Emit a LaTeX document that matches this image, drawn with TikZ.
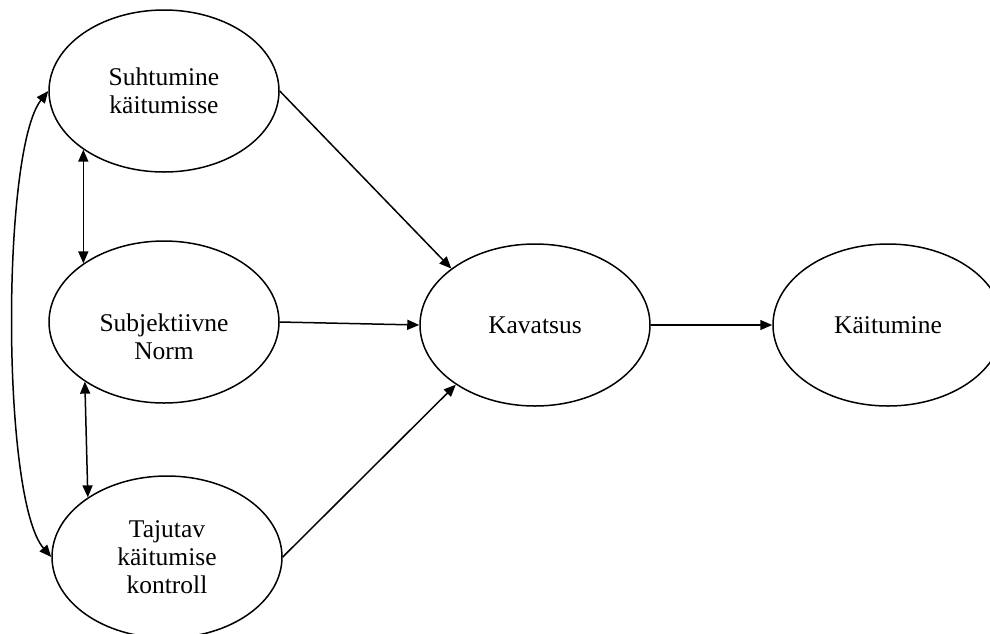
\documentclass[tikz,border=0pt]{standalone}
\usepackage{fontspec}
\setmainfont{Liberation Serif}
\usetikzlibrary{shapes.geometric,arrows.meta}
\begin{document}
\begin{tikzpicture}[x=1pt,y=-1pt,
  txt/.style={align=center, inner sep=0pt, font=\fontsize{25.5}{28}\selectfont},
  oval/.style={txt, draw, ellipse, line width=1.5pt, minimum width=230pt, minimum height=162pt},
  tip/.tip={Triangle[length=12pt,width=10pt]},
  conn/.style={line width=1.5pt, -tip},
  both/.style={line width=1.5pt, tip-tip}]
\useasboundingbox (0,0) rectangle (990,633);
\clip (0,0) rectangle (990,633);

% constructs
\node[oval] (att)  at (164,91)  {Suhtumine\\käitumisse};
\node[oval] (norm) at (164,322) {};
\node[txt]  (normtxt) at (164,337) {Subjektiivne\\Norm};
\node[oval] (pbc)  at (167,557) {Tajutav\\käitumise\\kontroll};
\node[oval] (int)  at (535,325) {Kavatsus};
\node[oval] (beh)  at (888,325) {Käitumine};

% paths to intention and behaviour
\draw[conn] (att.east)  -- (int.146);
\draw[conn] (norm.east) -- (int.west);
\draw[conn] (pbc.east)  -- (int.217);
\draw[conn] (int.east)  -- (beh.west);

% correlations between the predictors
\draw[both] (att.216)  -- (norm.144);
\draw[both] (norm.217) -- (pbc.143);
\draw[both] (att.west) .. controls +(-47,59) and +(-50,-57) .. (pbc.west);
\end{tikzpicture}
\end{document}
